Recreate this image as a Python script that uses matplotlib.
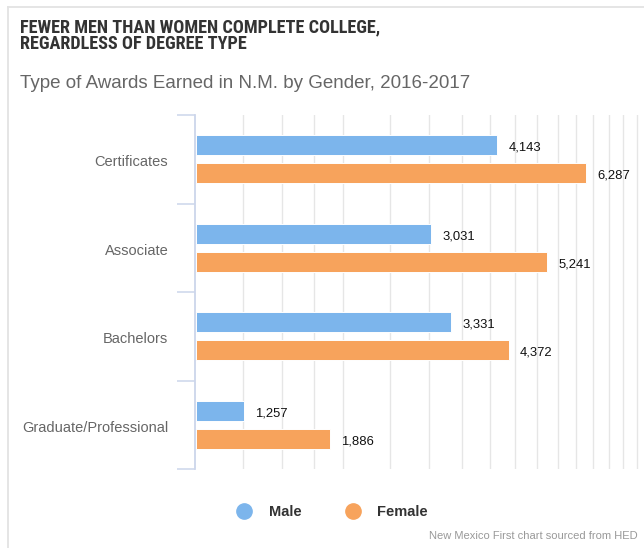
import matplotlib
matplotlib.use('Agg')
import matplotlib.pyplot as plt
from matplotlib.lines import Line2D
from matplotlib.ticker import NullLocator, FixedLocator
from matplotlib import font_manager
import numpy as np

categories = ["Certificates", "Associate", "Bachelors", "Graduate/Professional"]
male = [4143, 3031, 3331, 1257]
female = [6287, 5241, 4372, 1886]
series_names = ["Male", "Female"]
series_colors = ["#7cb5ec", "#f7a35c"]
title_lines = ["FEWER MEN THAN WOMEN COMPLETE COLLEGE,", "REGARDLESS OF DEGREE TYPE"]
subtitle = "Type of Awards Earned in N.M. by Gender, 2016-2017"
credit = "New Mexico First chart sourced from HED"
grid_values = [1250, 1500, 1750, 2000, 2500, 3000, 3500, 4000, 4500, 5000,
               5500, 6000, 6500, 7000, 7500, 8000]

plt.rcParams['font.family'] = ['Liberation Sans', 'DejaVu Sans']

installed = {f.name for f in font_manager.fontManager.ttflist}
title_family = 'Roboto'
for cand in ['Liberation Sans Narrow', 'Arial Narrow', 'Roboto Condensed', 'Roboto']:
    if cand in installed:
        title_family = cand
        break

W, H = 644, 548
fig = plt.figure(figsize=(W / 100, H / 100), dpi=100)


def fx(px):
    return px / W


def fy(py):
    return 1 - py / H


# frame (card border)
fig.add_artist(Line2D([fx(8), fx(8)], [fy(7), fy(560)], color='#e3e3e3', lw=1.3,
                      transform=fig.transFigure))
fig.add_artist(Line2D([fx(8), fx(660)], [fy(7), fy(7)], color='#e3e3e3', lw=1.3,
                      transform=fig.transFigure))

ax_left, ax_top, ax_bottom = 195.5, 115, 469
ax = fig.add_axes([fx(ax_left), fy(ax_bottom), 1 - fx(ax_left), fy(ax_top) - fy(ax_bottom)])
ax.set_xscale('log')
ax.set_xlim(1000, 8260)
base = ax.get_xlim()[0]

y = np.arange(len(categories))
unit_px = (ax_bottom - ax_top) / len(categories)
off = 14 / unit_px
h = 20 / unit_px

for vals, offset, col in [(male, -off, series_colors[0]), (female, off, series_colors[1])]:
    ax.barh(y + offset, [v - base for v in vals], left=base, height=h, color=col,
            edgecolor='white', linewidth=0.7, zorder=3)
    for yi, v in zip(y, vals):
        ax.annotate(f"{v:,}", xy=(v, yi + offset), xytext=(8, -1.8),
                    textcoords='offset points', ha='left', va='center',
                    fontsize=9.4, color='#111111', zorder=4)

ax.set_ylim(len(categories) - 0.5, -0.5)
ax.set_yticks(y)
ax.set_yticklabels([])
for yi, cat in zip(y, categories):
    ax.annotate(cat, xy=(0, yi), xycoords=('axes fraction', 'data'),
                xytext=(-19.6, -2.0), textcoords='offset points',
                ha='right', va='center', fontsize=10.5, color='#666666',
                annotation_clip=False)
ax.yaxis.set_minor_locator(FixedLocator(np.arange(len(categories) + 1) - 0.5))
ax.tick_params(axis='y', which='major', length=0)
ax.tick_params(axis='y', which='minor', length=13, width=1.1, color='#ccd6eb')

ax.xaxis.set_major_locator(FixedLocator(grid_values))
ax.xaxis.set_minor_locator(NullLocator())
ax.tick_params(axis='x', which='both', length=0, labelbottom=False)
ax.grid(axis='x', color='#e6e6e6', lw=1)
ax.set_axisbelow(True)

for s in ['top', 'right', 'bottom']:
    ax.spines[s].set_visible(False)
ax.spines['left'].set_color('#ccd6eb')
ax.spines['left'].set_linewidth(1.3)

# titles
t1 = fig.text(fx(20.5), fy(32.3), title_lines[0], fontfamily=[title_family, 'Liberation Sans'],
              fontweight='bold', fontsize=12.8, color='#333333', va='baseline', ha='left')
t2 = fig.text(fx(20.5), fy(49.4), title_lines[1], fontfamily=[title_family, 'Liberation Sans'],
              fontweight='bold', fontsize=12.8, color='#333333', va='baseline', ha='left')
renderer = fig.canvas.get_renderer()
w = t1.get_window_extent(renderer).width
size = min(13.6, 12.8 * 362.0 / w)
t1.set_fontsize(size)
t2.set_fontsize(size)

fig.text(fx(20.5), fy(87.5), subtitle, fontsize=13.5, color='#666666', va='baseline', ha='left')

# legend
legend_items = [(244, 269), (352.7, 376.7)]
for (cx, tx), name, col in zip(legend_items, series_names, series_colors):
    fig.add_artist(Line2D([fx(cx)], [fy(510.7)], marker='o', markersize=11, color=col,
                          linestyle='none', transform=fig.transFigure))
    fig.text(fx(tx), fy(510.7), name, fontsize=10.5, fontweight='bold', color='#333333',
             va='center_baseline', ha='left')

fig.text(fx(637.7), fy(535.2), credit, fontsize=8.0, color='#999999',
         va='center_baseline', ha='right')

fig.savefig('out.png', dpi=100)
